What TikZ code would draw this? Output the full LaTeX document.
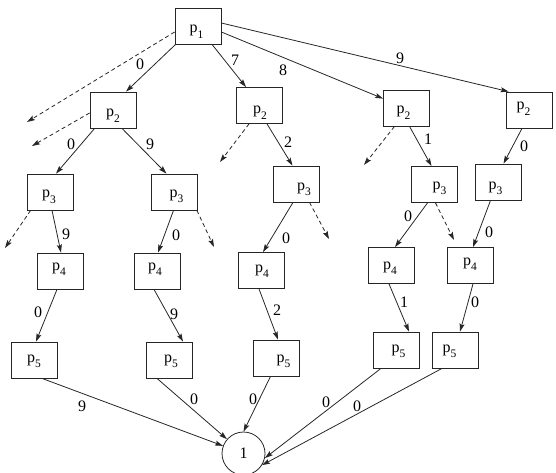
\documentclass[tikz,border=0pt]{standalone}
\usepackage{fontspec}
\setmainfont{Liberation Serif}
\usetikzlibrary{arrows.meta,calc}
\tikzset{
  box/.style={draw=black!85,line width=0.8pt,minimum width=46pt,minimum height=36pt,inner sep=0pt},
  ptext/.style={anchor=base,inner sep=0pt,font=\fontsize{16}{19}\selectfont},
  lab/.style={inner sep=0pt,font=\fontsize{16}{19}\selectfont},
  arr/.style={draw=black!85,line width=0.8pt,-{Stealth[length=8pt,width=5pt,inset=1.5pt]}},
  darr/.style={arr,dash pattern=on 4pt off 3pt},
  endcirc/.style={draw=black!85,line width=0.8pt,circle,minimum size=43pt,inner sep=0pt,font=\fontsize{16}{19}\selectfont}
}
\newcommand{\pbox}[6]{%
  \node[box] (#1) at (#2,#3) {};
  \node[ptext] (#1t) at (#4,#5) {p\raisebox{-5.5pt}{\fontsize{11.5}{12}\selectfont #6}};
}
\begin{document}
\begin{tikzpicture}[x=1pt,y=-1pt]
\useasboundingbox (0,0) rectangle (556,473);
% boxes
\pbox{p1}{198}{26}{196.5}{33}{1}
\pbox{p2a}{113}{110}{113}{117}{2}
\pbox{p2b}{259}{105.5}{260}{114}{2}
\pbox{p2c}{406.5}{108}{403.5}{114}{2}
\pbox{p2d}{529}{110}{523.5}{110}{2}
\pbox{p3a}{50}{192}{49}{197.5}{3}
\pbox{p3b}{174.5}{192}{176.5}{197}{3}
\pbox{p3c}{296.5}{184}{304}{190}{3}
\pbox{p3d}{434.5}{184.5}{439.5}{189}{3}
\pbox{p3e}{498.5}{182}{495.5}{189}{3}
\pbox{p4a}{60}{271}{59}{270}{4}
\pbox{p4b}{157}{271}{155}{270}{4}
\pbox{p4c}{261}{270.5}{262}{272}{4}
\pbox{p4d}{391}{265.5}{390}{269}{4}
\pbox{p4e}{470}{265.5}{470}{265}{4}
\pbox{p5a}{34}{360}{34}{362}{5}
\pbox{p5b}{169}{360}{171}{362}{5}
\pbox{p5c}{276.5}{358}{283.5}{362}{5}
\pbox{p5d}{396}{350}{398.5}{352}{5}
\pbox{p5e}{455}{350}{449.5}{352}{5}
\node[endcirc] (c) at (243.5,453.5) {1};
% free ends of dashed arrows
\coordinate (d1) at (27,122);
\coordinate (d2) at (32,146);
\coordinate (d3) at (220,162);
\coordinate (d4) at (364,165);
\coordinate (d5) at (5,248);
\coordinate (d6) at (214,247);
\coordinate (d7) at (329,239);
\coordinate (d8) at (454,240);
% level 1 -> 2
\draw[arr] ($(p1.south west)+(1,0)$) -- ($(p2a.north)+(13,0)$);
\draw[arr] ($(p1.south)+(14,0)$) -- ($(p2b.north)+(-13,0)$);
\draw[arr] ($(p1.east)+(0,6)$) -- ($(p2c.north west)+(0,9)$);
\draw[arr] ($(p1.east)+(0,-3)$) -- ($(p2d.north west)+(3,0)$);
\draw[darr] ($(p1.west)+(0,6)$) -- (d1);
% level 2 -> 3
\draw[arr] ($(p2a.south west)+(5,0)$) -- ($(p3a.north)+(6,0)$);
\draw[arr] ($(p2a.south)+(9,0)$) -- ($(p3b.north)+(-8,0)$);
\draw[darr] ($(p2a.west)+(0,3)$) -- (d2);
\draw[arr] ($(p2b.south)+(8,0)$) -- ($(p3c.north)+(-4,0)$);
\draw[darr] ($(p2b.south)+(-10,0)$) -- (d3);
\draw[arr] ($(p2c.south)+(3,0)$) -- ($(p3d.north)+(-3,0)$);
\draw[darr] ($(p2c.south)+(-12,0)$) -- (d4);
\draw[arr] ($(p2d.south)+(-7,0)$) -- ($(p3e.north)+(5,0)$);
% level 3 -> 4
\draw[arr] ($(p3a.south)+(2,0)$) -- ($(p4a.north)+(1,0)$);
\draw[darr] ($(p3a.south west)+(4,0)$) -- (d5);
\draw[arr] ($(p3b.south)+(-1,0)$) -- ($(p4b.north)+(1,0)$);
\draw[darr] ($(p3b.south east)+(-1,0)$) -- (d6);
\draw[arr] ($(p3c.south)+(-3.5,0)$) -- ($(p4c.north)+(2,0)$);
\draw[darr] ($(p3c.south)+(13,0)$) -- (d7);
\draw[arr] ($(p3d.south)+(-7,0)$) -- ($(p4d.north)+(4,0)$);
\draw[darr] ($(p3d.south)+(1,0)$) -- (d8);
\draw[arr] ($(p3e.south)+(-8,0)$) -- ($(p4e.north)+(3,0)$);
% level 4 -> 5
\draw[arr] ($(p4a.south)+(-3,0)$) -- ($(p5a.north)+(2,0)$);
\draw[arr] ($(p4b.south)+(-3,0)$) -- ($(p5b.north)+(14,0)$);
\draw[arr] ($(p4c.south)+(-2,0)$) -- ($(p5c.north)+(1.5,0)$);
\draw[arr] ($(p4d.south)+(-2,0)$) -- ($(p5d.north)+(13,0)$);
\draw[arr] ($(p4e.south)+(3,0)$) -- ($(p5e.north)+(5,0)$);
% level 5 -> end
\draw[arr] ($(p5a.south)+(8,0)$) -- (c);
\draw[arr] ($(p5b.south)+(-12,0)$) -- (c);
\draw[arr] ($(p5c.south)+(-6,0)$) -- (c.north);
\draw[arr] ($(p5d.south)+(-15,0)$) -- (c.-12);
\draw[arr] ($(p5e.south)+(-13,0)$) -- (c.-32);
% edge labels
\node[lab] (l1) at (140,64) {0};
\node[lab] (l2) at (235,60) {7};
\node[lab] (l3) at (283,70) {8};
\node[lab] (l4) at (400,58) {9};
\node[lab] (l5) at (71,144) {0};
\node[lab] (l6) at (150,144) {9};
\node[lab] (l7) at (288,142) {2};
\node[lab] (l8) at (428,139) {1};
\node[lab] (l9) at (524,146) {0};
\node[lab] (l10) at (66,234) {9};
\node[lab] (l11) at (176,235) {0};
\node[lab] (l12) at (286,238) {0};
\node[lab] (l13) at (408,216) {0};
\node[lab] (l14) at (489,232) {0};
\node[lab] (l15) at (38,312) {0};
\node[lab] (l16) at (174,314) {9};
\node[lab] (l17) at (277,310) {2};
\node[lab] (l18) at (404,302) {1};
\node[lab] (l19) at (475,302) {0};
\node[lab] (l20) at (82,406) {9};
\node[lab] (l21) at (194,399) {0};
\node[lab] (l22) at (253,399) {0};
\node[lab] (l23) at (326,402) {0};
\node[lab] (l24) at (357,406) {0};
\end{tikzpicture}
\end{document}
